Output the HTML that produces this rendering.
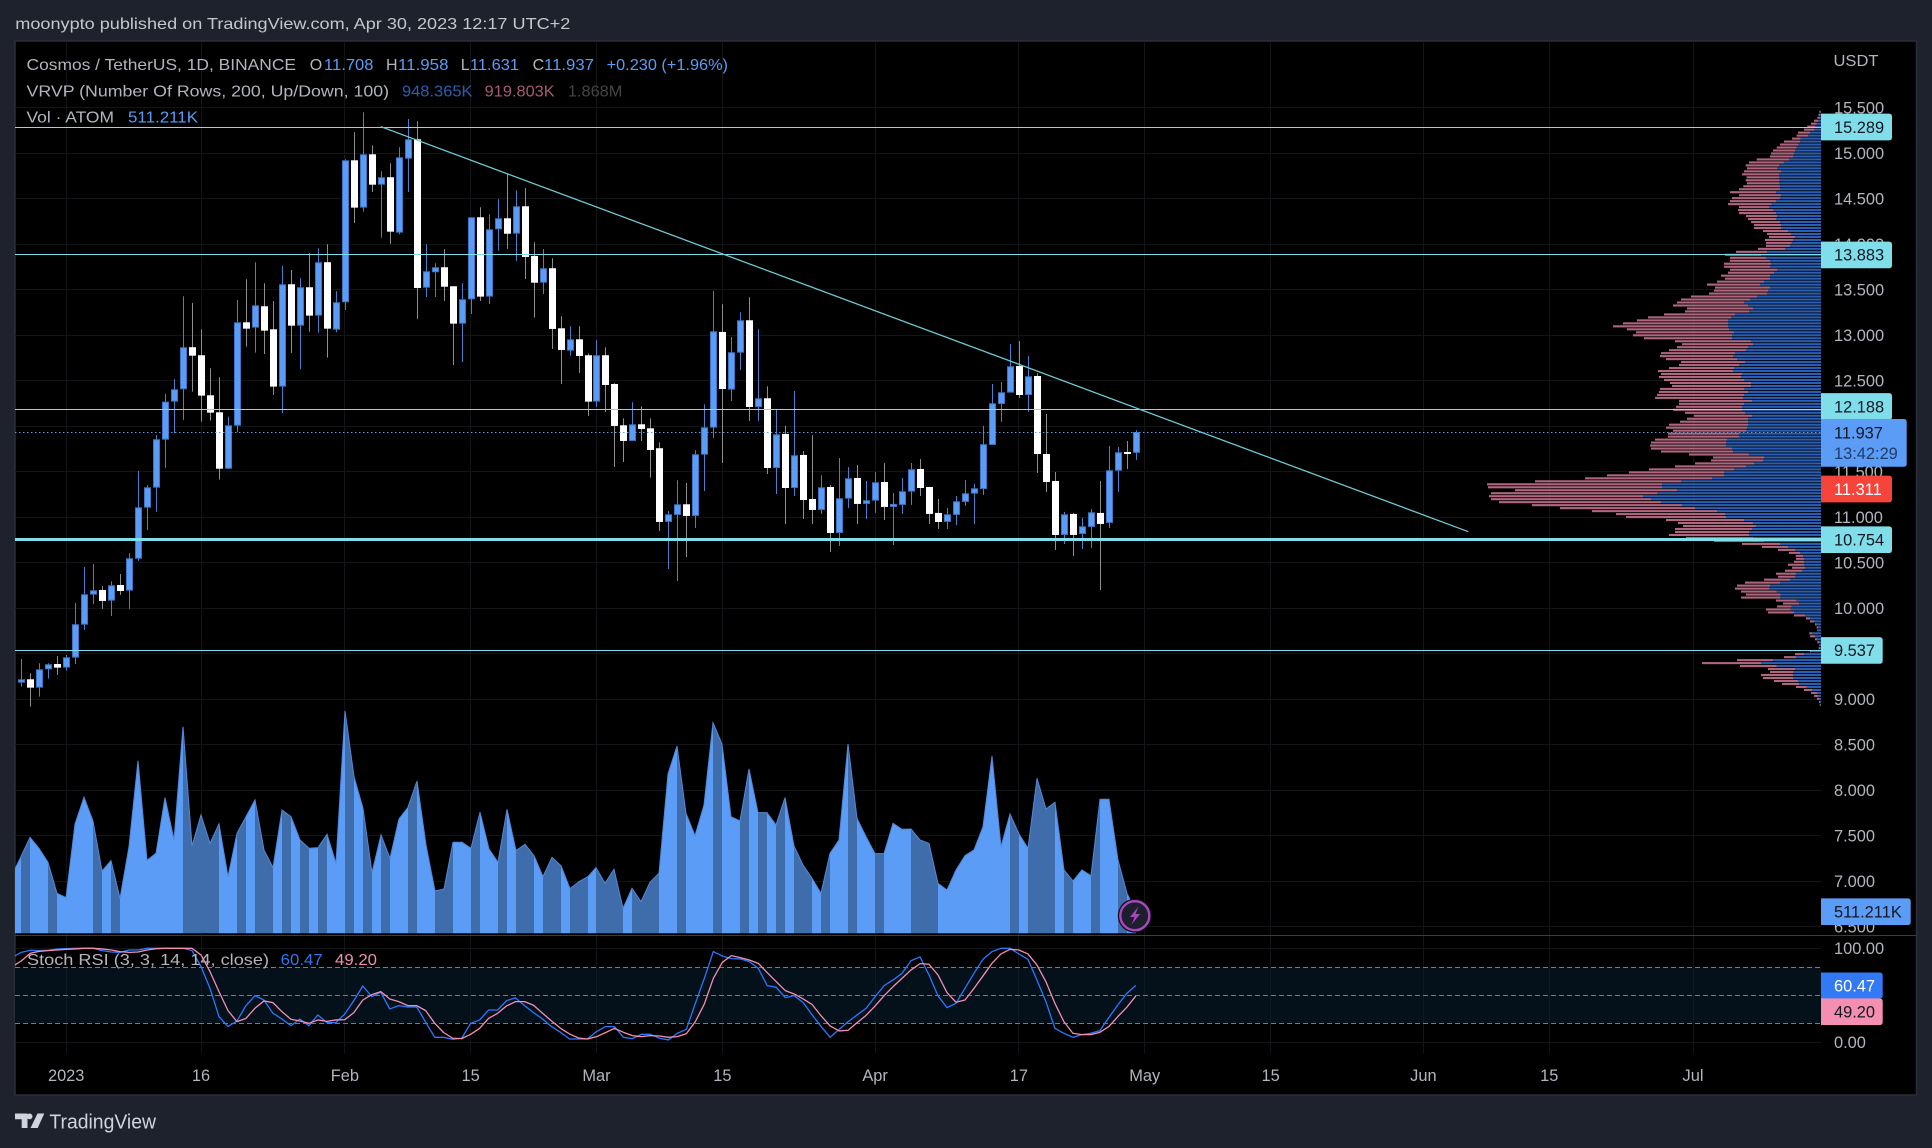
<!DOCTYPE html>
<html lang="en">
<head>
<meta charset="utf-8">
<title>Cosmos / TetherUS chart</title>
<style>
html,body{margin:0;padding:0;background:#1e222d;width:1932px;height:1148px;overflow:hidden}
svg{display:block;fill:#b2b5be}
text{font-family:"Liberation Sans",sans-serif;font-size:16px}
</style>
</head>
<body>
<svg id="chart" xmlns="http://www.w3.org/2000/svg" width="1932" height="1148" viewBox="0 0 1932 1148">
  <defs>
    <clipPath id="mainClip"><rect x="15" y="41" width="1806" height="892.5"/></clipPath>
    <clipPath id="stochClip"><rect x="15" y="936" width="1806" height="117"/></clipPath>
  </defs>
  <rect x="0" y="0" width="1932" height="1148" fill="#1e222d"/>
  <text x="15.3" y="29" textLength="555" lengthAdjust="spacingAndGlyphs" fill="#c5c7cd">moonypto published on TradingView.com, Apr 30, 2023 12:17 UTC+2</text>
  <rect x="15" y="41" width="1901.5" height="1054" fill="#000" stroke="#2a2e39" stroke-width="1.5"/>
  <g id="grid"></g>
  <rect id="stochBand" fill="#04101a"/>
  <g id="gridTop"></g>
  <g id="profile"></g>
  <g id="volume" clip-path="url(#mainClip)"></g>
  <g id="candles" clip-path="url(#mainClip)"></g>
  <g id="levels"></g>
  <g id="stoch" clip-path="url(#stochClip)"></g>
  <rect x="15" y="935" width="1901" height="1" fill="#383c47"/>
  <g id="priceAxis"></g>
  <g id="timeAxis"></g>
  <g id="boxes"></g>

  <g>
    <text x="26.5" y="70" textLength="269.5" lengthAdjust="spacingAndGlyphs">Cosmos / TetherUS, 1D, BINANCE</text>
    <text x="309.7" y="70">O</text>
    <text x="324" y="70" textLength="49.5" lengthAdjust="spacingAndGlyphs" fill="#5b9cf6">11.708</text>
    <text x="386" y="70">H</text>
    <text x="398" y="70" textLength="50.5" lengthAdjust="spacingAndGlyphs" fill="#5b9cf6">11.958</text>
    <text x="460.7" y="70">L</text>
    <text x="470" y="70" textLength="49" lengthAdjust="spacingAndGlyphs" fill="#5b9cf6">11.631</text>
    <text x="532.6" y="70">C</text>
    <text x="544" y="70" textLength="50" lengthAdjust="spacingAndGlyphs" fill="#5b9cf6">11.937</text>
    <text x="606.6" y="70" textLength="121.4" lengthAdjust="spacingAndGlyphs" fill="#5b9cf6">+0.230 (+1.96%)</text>
    <text x="26.5" y="96.5" textLength="362.5" lengthAdjust="spacingAndGlyphs">VRVP (Number Of Rows, 200, Up/Down, 100)</text>
    <text x="402" y="96.5" textLength="70.5" lengthAdjust="spacingAndGlyphs" fill="#2a5fb4">948.365K</text>
    <text x="484.7" y="96.5" textLength="70" lengthAdjust="spacingAndGlyphs" fill="#a85a78">919.803K</text>
    <text x="567.9" y="96.5" textLength="54.5" lengthAdjust="spacingAndGlyphs" fill="#454545">1.868M</text>
    <text x="26.5" y="122.5" textLength="87.5" lengthAdjust="spacingAndGlyphs">Vol · ATOM</text>
    <text x="128" y="122.5" textLength="70" lengthAdjust="spacingAndGlyphs" fill="#5b9cf6">511.211K</text>
  </g>
  <g>
    <text x="27" y="965" textLength="242" lengthAdjust="spacingAndGlyphs">Stoch RSI (3, 3, 14, 14, close)</text>
    <text x="280.7" y="965" textLength="42" lengthAdjust="spacingAndGlyphs" fill="#2f7af0">60.47</text>
    <text x="335" y="965" textLength="42" lengthAdjust="spacingAndGlyphs" fill="#f48fb1">49.20</text>
  </g>
  <text x="1833.5" y="66" textLength="45" lengthAdjust="spacingAndGlyphs">USDT</text>

  <g>
    <circle cx="1134.8" cy="915.7" r="17" fill="#101218"/>
    <circle cx="1134.8" cy="915.7" r="14.5" fill="#1e1f2e" stroke="#ab47bc" stroke-width="2.4"/>
    <path d="M1138.5 906.5l-8.5 10.5h4.6l-3.1 7.5 8.6-10.5h-4.6z" fill="#ab47bc"/>
  </g>
  <g>
    <path d="M15 1113.5h12.5v14.5h-5.8v-8.8H15zM37.5 1113.5h6.8l-6.6 14.5h-7.2zM29.6 1113.5a2.9 2.9 0 1 1 0 5.8a2.9 2.9 0 1 1 0-5.8z" fill="#d1d4dc"/>
    <text x="49.4" y="1128.5" style="font-size:20px" textLength="106.6" lengthAdjust="spacingAndGlyphs" fill="#d1d4dc">TradingView</text>
  </g>
</svg>
<script>
// ---- Candles: daily OHLC starting at firstCandleDay (days relative to 1 Jan 2023)
const firstCandleDay = -5;
const candleOpen = [9.183,9.220,9.128,9.330,9.388,9.348,9.458,9.820,10.150,10.201,
10.084,10.256,10.194,10.545,11.106,11.326,11.853,12.271,12.407,12.869,
12.781,12.341,12.154,11.534,12.007,13.143,13.084,13.319,13.066,12.436,
13.561,13.106,13.528,13.216,13.803,13.062,13.363,14.923,14.403,14.989,
14.655,14.737,14.128,14.941,15.154,13.523,13.693,13.748,13.539,13.128,
13.396,14.297,13.425,14.165,14.286,14.117,14.418,13.872,13.578,13.737,
13.077,12.831,12.956,12.781,12.271,12.781,12.465,12.011,11.839,12.022,
11.978,11.759,10.949,11.026,11.143,11.015,11.688,11.985,13.037,12.403,
12.809,13.165,12.212,12.308,11.542,11.916,11.322,11.685,11.201,11.081,
11.333,10.828,11.205,11.432,11.147,11.183,11.388,11.114,11.136,11.282,
11.531,11.333,11.048,10.949,11.026,11.169,11.260,11.311,11.795,12.245,
12.370,12.663,12.344,12.553,11.696,11.399,10.806,11.037,10.817,10.894,
11.048,10.938,11.512,11.718,11.708];
const candleHigh = [9.443,9.286,9.396,9.396,9.476,9.487,10.059,10.454,10.487,10.245,
10.297,10.377,10.605,11.509,11.355,11.905,12.355,12.517,13.429,13.355,
13.066,12.638,12.539,12.106,13.388,13.616,13.803,13.572,13.377,13.762,
13.718,13.627,13.901,13.956,14.000,13.484,14.934,15.231,15.451,15.088,
14.803,14.890,15.066,15.377,15.352,14.000,13.792,13.945,13.539,13.572,
14.297,14.407,14.330,14.495,14.773,14.594,14.619,14.022,13.949,13.847,
13.209,13.099,13.099,12.803,12.945,12.869,12.473,12.088,12.264,12.220,
12.088,11.825,11.070,11.407,11.377,11.737,12.242,13.487,13.341,12.982,
13.253,13.418,13.066,12.440,12.180,12.004,12.388,11.729,11.905,11.462,
11.355,11.652,11.553,11.575,11.399,11.498,11.597,11.267,11.432,11.597,
11.641,11.333,11.201,11.103,11.234,11.410,11.366,12.004,12.465,12.487,
12.905,12.938,12.773,12.583,12.136,11.498,11.059,11.048,10.993,11.092,
11.399,11.784,11.773,11.839,11.958];
const candleLow = [9.139,8.919,9.029,9.227,9.267,9.315,9.388,9.762,10.048,9.993,
9.916,10.147,9.993,10.523,10.861,11.062,11.545,11.923,12.070,12.381,
12.051,12.062,11.414,11.531,11.934,12.875,12.809,12.795,12.344,12.143,
12.806,12.627,13.040,13.029,12.754,13.033,13.278,14.234,14.359,14.575,
14.073,14.004,14.110,14.575,13.180,13.421,13.421,13.377,12.674,12.707,
13.234,13.377,13.344,13.930,13.949,13.817,13.619,13.194,13.454,12.850,
12.465,12.776,12.586,12.114,12.212,12.158,11.553,11.608,11.839,11.839,
11.436,10.850,10.432,10.300,10.564,10.883,11.289,11.872,11.597,12.278,
12.619,12.059,12.059,11.476,11.256,10.927,11.234,10.982,10.927,11.037,
10.619,10.685,11.103,10.927,10.982,11.048,10.971,10.696,11.037,11.136,
11.234,10.927,10.872,10.872,10.916,11.125,10.927,11.245,11.795,12.048,
12.370,12.311,12.158,11.487,11.278,10.641,10.707,10.575,10.652,10.663,
10.201,10.883,11.278,11.531,11.631];
const candleClose = [9.220,9.128,9.330,9.385,9.348,9.462,9.825,10.154,10.198,10.081,
10.253,10.190,10.550,11.110,11.330,11.858,12.271,12.407,12.869,12.776,
12.337,12.150,11.534,12.011,13.143,13.073,13.330,13.051,12.436,13.561,
13.106,13.528,13.216,13.803,13.073,13.363,14.923,14.403,14.989,14.655,
14.737,14.139,14.956,15.154,13.520,13.704,13.748,13.534,13.128,13.396,
14.297,13.425,14.165,14.286,14.116,14.418,13.861,13.578,13.737,13.070,
12.839,12.956,12.773,12.271,12.781,12.454,12.004,11.839,12.022,11.971,
11.740,10.949,11.033,11.143,11.015,11.693,11.989,13.044,12.410,12.814,
13.165,12.212,12.308,11.542,11.912,11.322,11.682,11.190,11.081,11.330,
10.828,11.209,11.429,11.147,11.187,11.385,11.114,11.147,11.286,11.528,
11.322,11.037,10.949,11.033,11.176,11.264,11.319,11.803,12.253,12.374,
12.660,12.344,12.550,11.696,11.388,10.806,11.033,10.806,10.901,11.055,
10.927,11.517,11.715,11.696,11.937];

// ---- Volume in thousands of ATOM; first value is the day before the first candle
const volumeK = [1380,1814,2271,2011,1680,946,844,2587,3218,2658,1475,1719,828,2051,4085,1727,1893,3210,2208,4890,
2066,2800,2129,2587,1341,2366,2760,3155,1972,1554,2918,2760,2208,2011,2027,2342,1656,5261,3707,2958,
1435,2327,1775,2705,2981,3604,2090,1002,1049,2153,2153,2011,2863,1995,1680,2934,1956,2106,1838,1341,
1798,1601,1057,1222,1341,1554,1183,1514,592,1065,749,1207,1420,3770,4432,2839,2311,3036,4985,4480,
2760,2658,3888,2855,2855,2563,3210,2066,1617,1301,946,1893,2208,4480,2721,2287,1885,1885,2603,2461,
2469,2208,2129,1183,1025,1499,1838,1972,2524,4196,2051,2824,2350,2011,3667,2942,3100,1499,1238,1499,
1364,3171,3171,1735,946,511];

// ---- Stoch RSI; first value is the day before the first candle
const stochK = [90.4,95.7,97.9,97.5,97.9,99.3,99.6,100,100,100,97.5,96.1,95.7,98.2,98.2,100,100,100,100,100,
97.5,80.5,57.4,27.3,16.7,22.7,39,49.6,45,30.9,24.8,17.7,24.8,17.7,29.1,20.9,20.9,30.1,44.3,59.9,
48.6,53.2,35.5,39,37.6,37.6,21.3,5.3,5.3,3.2,4.3,20.2,23.8,34.4,34.4,44.3,47.2,39,31.6,24.8,
16.7,10.6,3.5,3.5,3.5,11.3,16.7,16.7,5.3,3.9,8.5,8.5,4.3,2.5,9.6,13.8,41.5,68.1,96.5,91.8,
89,88.7,85.8,78.7,60.3,58.5,47.5,49.6,42.2,29.1,16.7,5.3,13.8,22,29.1,36.2,48.6,60.3,66.3,73.4,
86.9,90.8,71.6,49.3,36.9,41.5,57.4,73.4,88.3,96.5,100,100,94,88.3,66.3,43.3,14.9,9.6,5.3,8.2,
9.6,12.4,26.2,39.7,52.1,60.47];
const stochD = [80.5,86.5,94.7,96.8,97.5,98.2,98.9,99.3,100,100,99.3,98.2,96.5,95.7,96.1,98.2,99.6,100,100,100,
100,92.9,75.2,53.9,33.7,22,25.5,36.2,44,42.2,32.6,24.5,22.7,20.2,23.8,22.3,23.8,24.1,31.6,45,
50.7,53.9,46.1,43.3,39,39,33.7,20.2,10.3,4.3,3.9,8.5,14.9,25.5,30.9,38.7,43.3,43.3,39.4,30.9,
22.7,14.9,8.9,4.6,3.5,6,10.3,14.9,10.6,7.1,6,7.1,6.7,5.3,6,9.2,22,40.8,68.1,85.1,
92.2,90.1,87.6,84,74.1,64.5,55,51.4,46.1,40.1,28,17.4,12.1,12.8,20.9,28.7,38.7,49.6,59.2,68.1,
77,83.7,83,71.6,52.8,42.6,45,57.4,70.6,84,94,98.9,98.2,94,82.3,64.5,41.5,22,9.6,8.2,
8.2,10.6,16.7,27.3,37.2,49.2];

// ---- Visible-range volume profile, rows from the highest price down (thousands)
const profileTopPrice = 15.457;
const profileRowStep = 0.03275;
const profileUp = [.03,.07,.1,.27,.43,.6,.67,1.1,1.27,2.03,2.1,2.27,2.43,2.6,2.67,2.77,3.2,3.7,4.2,4.37,
4,4.17,4.17,4.13,4.2,4.1,4.1,4.5,4,4.1,4.5,4.93,5.17,4.77,4.5,4.37,4.5,4.1,4,4,
3.3,3,2.6,2.8,2.93,3.1,3.6,5.4,6,5.5,5.1,5,5.1,4.4,4.7,5.1,5.1,5.7,6.1,5.1,
5.3,5.4,6.4,7.1,7.7,7.3,6.8,7.2,8.6,9,9.3,9.3,9.3,9.2,8.7,8.9,8.9,7,6.8,7.3,
7.5,8.6,8.8,8.4,7.6,8.2,8.7,8.8,7.9,8,7.7,7,7,7.7,7.3,7.7,7.8,6.9,7.7,7.9,
7.9,7.6,6.9,7.3,7.3,7.3,7.4,7.5,8.2,8.2,9.4,9.5,9.5,8.9,8.8,7.2,5.7,5.8,6.7,7.5,
8.7,9.7,9.7,10.9,14,15.9,15.9,14.4,16.4,17.8,17,16,13.9,12.6,10.4,9.6,9.5,7.7,6.8,6.5,
6.9,7.2,7.2,6.8,5.7,4.1,3.3,2.6,2.1,1.8,1.67,1.67,1.7,1.6,1.9,2.5,2.6,3.1,4.1,5.1,
5.2,4.43,4.03,4.1,2.43,2.2,2.93,3.03,2.7,1.6,1.1,.7,.43,.27,.27,.87,.6,.37,.17,.1,
.07,1,1.7,2.5,4.77,6,4.43,2.6,2.77,2.8,2.8,2.3,2.2,1.43,.9,.4,.27,.2,.1,.03];
const profileDown = [.13,.17,.27,.43,.57,.77,1.03,1.2,1.17,.87,1.6,1.83,2,2.2,2.33,2.33,3.23,3.5,3.33,3.03,
3.7,3.73,3.27,3.4,3.2,3.67,4.1,4.6,4.2,4.8,4.6,4.37,3.03,3.53,3.7,3.13,2.8,2.9,2.7,2.7,
2.5,2.4,2.6,2.8,2.57,2.4,2.7,3.1,3.6,3.6,4,4.7,4.6,4.7,4.6,4.9,4.5,4.7,5.3,5.5,
5.4,5.8,6.6,6.9,6.7,7.5,6.6,6.4,7.1,8.3,9.1,10.5,11.5,10.2,9.8,9.9,8.8,7.6,7.1,7.1,
7.7,7.4,7.3,7.1,6.4,6,6.5,7.5,8.1,8.2,8,8.1,7.9,8.4,8.9,8.7,8.8,7.3,6.5,6.6,
6.9,6,5.8,6.1,6.8,7.9,8.1,7.3,7.1,7.1,7.2,7.5,7.6,8.1,7.2,6,5.1,5.2,5.9,7.1,
8.5,9.5,11.7,12.7,14.6,17.5,17.4,16.2,16.6,15.4,16,16.2,15,13.5,12.5,10.9,10,7.8,7.5,7.3,
7.7,7.4,8,6.7,5,3.8,2.6,1.7,1.1,.73,.83,1.03,1.6,1.3,1.7,2,1.7,2.6,3.5,3.3,
3.4,3.57,3.47,3.9,2.07,1.6,1.47,2.47,2.6,1.1,.4,.4,.17,.17,.1,.3,.5,.23,.2,.07,
.17,.1,.9,1.2,3.63,5.9,3.67,2.7,2.33,3.2,3,2.4,1.7,1.07,.8,.6,.43,.2,.1,.1];

// ---- Drawings and axis ticks
const levelPrices = [15.289,13.883,12.188,10.754,9.537];
const thickLevel = 10.754;
const lastPrice = 11.937;
const pocPrice = 11.311;
const trendDays = [35,156];
const trendPrices = [15.293,10.842];
const priceTicks = [15.5,15,14.5,14,13.5,13,12.5,12,11.5,11,10.5,10,9.5,9,8.5,8,7.5,7,6.5];
const stochTicks = [100,0];
const stochBandLines = [80,50,20];
const timeTickDays = [0,15,31,45,59,73,90,106,120,134,151,165,181];
const timeTickLabels = ['2023','16','Feb','15','Mar','15','Apr','17','May','15','Jun','15','Jul'];

// ---- Axis functions
function xDay(d){return 66.2+8.988*d;}
function yPrice(p){return 153.3+(15-p)*91;}
function yVolume(k){return 933.3-k/23.66;}
function yStoch(v){return 1042.3-0.94*v;}
function wProfile(k){return k*10;}

const SVGNS='http://www.w3.org/2000/svg';
function make(tag,parent,attrs){
  const el=document.createElementNS(SVGNS,tag);
  for(const k in attrs){el.setAttribute(k,attrs[k]);}
  document.getElementById(parent).appendChild(el);
  return el;
}
const L=15,R=1821;
const GRID='#131417';

// grid
priceTicks.forEach(function(p){
  const y=Math.floor(yPrice(p))+0.5;
  const el=make('line','grid',{x1:L,x2:R,y1:y,y2:y,stroke:GRID,'stroke-width':1});
  
  
});
timeTickDays.forEach(function(d){
  const x=Math.floor(xDay(d))+0.5;
  const el=make('line','grid',{x1:x,x2:x,y1:42,y2:1053,stroke:GRID,'stroke-width':1});
  
  
});

// stoch band + guides
const band=document.getElementById('stochBand');
band.setAttribute('x',L);
band.setAttribute('width',R-L);
band.setAttribute('y',yStoch(stochBandLines[0]));
band.setAttribute('height',yStoch(stochBandLines[2])-yStoch(stochBandLines[0]));
timeTickDays.forEach(function(d){
  const x=Math.floor(xDay(d))+0.5;
  const el=make('line','gridTop',{x1:x,x2:x,y1:yStoch(stochBandLines[0]),y2:yStoch(stochBandLines[2]),stroke:'#101a23','stroke-width':1});
  
  
});
stochTicks.forEach(function(v){
  const y=Math.floor(yStoch(v))+0.5;
  const el=make('line','gridTop',{x1:L,x2:R,y1:y,y2:y,stroke:GRID,'stroke-width':1});
  
  
});
stochBandLines.forEach(function(v){
  const y=Math.floor(yStoch(v))+0.5;
  const el=make('line','gridTop',{x1:L,x2:R,y1:y,y2:y,stroke:'#787b86','stroke-width':1,'stroke-dasharray':'5 3'});
  
  
});

// volume profile
profileUp.forEach(function(up,i){
  const price=profileTopPrice-i*profileRowStep;
  const y=yPrice(price)-1;
  const wu=wProfile(up), wd=wProfile(profileDown[i]);
  const ru=make('rect','profile',{x:R-wu,y:y,width:wu,height:2.1,fill:'#2a5fb4'});
  
  
  const rd=make('rect','profile',{x:R-wu-wd,y:y,width:wd,height:2.1,fill:'#b0667f'});
  
  
});

// volume area (each segment ends at its candle and takes that candle's direction)
const volFirstDay=firstCandleDay-1;
for(let i=1;i<volumeK.length;i++){
  const d=volFirstDay+i, c=i-1;
  const up=candleClose[c]>=candleOpen[c];
  const x0=Math.round(xDay(d-1)), x1=Math.round(xDay(d));
  const base=yVolume(0);
  const pts=[x0,base,x0,yVolume(volumeK[i-1]),x1,yVolume(volumeK[i]),x1,base].join(' ');
  const el=make('polygon','volume',{points:pts,fill:up?'#5b9cf6':'#3f6dab'});
  
  
}
const volPts=volumeK.map(function(k,i){return Math.round(xDay(volFirstDay+i))+','+yVolume(k);}).join(' ');
const volLine=make('polyline','volume',{points:volPts,fill:'none',stroke:'#5288d8','stroke-width':1});



// candles
candleOpen.forEach(function(o,i){
  const d=firstCandleDay+i, c=candleClose[i];
  const up=c>=o;
  const cx=Math.round(xDay(d));
  const wick=make('line','candles',{x1:cx+0.5,x2:cx+0.5,y1:yPrice(candleHigh[i]),y2:yPrice(candleLow[i]),stroke:up?'#4a7fcb':'#8e8e8e','stroke-width':1});
  
  
  const top=yPrice(Math.max(o,c)), bottom=yPrice(Math.min(o,c));
  const attrs=up?{x:cx-2.5,y:top+0.5,width:6,height:Math.max(bottom-top-1,1),fill:'#5b9cf6',stroke:'#3f74c4','stroke-width':1}
                :{x:cx-3,y:top,width:7,height:Math.max(bottom-top,1),fill:'#ffffff'};
  const body=make('rect','candles',attrs);
  
  
});

// stoch lines
function stochPath(values){
  return values.map(function(v,i){return xDay(volFirstDay+i)+','+yStoch(v);}).join(' ');
}
const kLine=make('polyline','stoch',{points:stochPath(stochK),fill:'none',stroke:'#2979ff','stroke-width':1.3,'stroke-linejoin':'round'});


const dLine=make('polyline','stoch',{points:stochPath(stochD),fill:'none',stroke:'#f48fb1','stroke-width':1.3,'stroke-linejoin':'round'});



// horizontal levels, trendline, last price
levelPrices.forEach(function(p){
  const thick=p===thickLevel;
  const y=Math.floor(yPrice(p))+0.5;
  const el=make('line','levels',{x1:L,x2:R,y1:y,y2:y,stroke:'#80deea','stroke-width':thick?3:1});
  
  
});
const trend=make('line','levels',{x1:xDay(trendDays[0]),y1:yPrice(trendPrices[0]),x2:xDay(trendDays[1]),y2:yPrice(trendPrices[1]),stroke:'#6fc9d2','stroke-width':1.3});


const lastY=Math.floor(yPrice(lastPrice))+0.5;
const lastLine=make('line','levels',{x1:L,x2:R,y1:lastY,y2:lastY,stroke:'#5b9cf6','stroke-width':1,'stroke-dasharray':'1.5 2.5'});



// axes
const TX=1834;
function fs(el){el.setAttribute('style','font-size:16.4px');}
priceTicks.forEach(function(p){
  const t=make('text','priceAxis',{x:TX,y:yPrice(p)+5.8});
  t.textContent=p.toFixed(3);
  fs(t);
  
  
});
stochTicks.forEach(function(v){
  const t=make('text','priceAxis',{x:TX,y:yStoch(v)+5.8});
  t.textContent=v.toFixed(2);
  fs(t);
  
  
});
timeTickDays.forEach(function(d,i){
  const t=make('text','timeAxis',{x:xDay(d),y:1081,'text-anchor':'middle'});
  t.textContent=timeTickLabels[i];
  fs(t);
  
  
});

// value boxes
function box(centerY,h,right,fill,txt,color){
  const top=centerY-h/2;
  const r=make('path','boxes',{d:'M1821 '+top+'H'+(right-3)+'q3 0 3 3V'+(top+h-3)+'q0 3 -3 3H1821z',fill:fill});
  
  
  const t=make('text','boxes',{x:TX,y:centerY+5.8,fill:color});
  t.textContent=txt;
  fs(t);
  
  
}
levelPrices.forEach(function(p){
  const s=p.toFixed(3);
  const shift=(p===12.188)?-2.7:0;
  box(yPrice(p)+shift,26.7,s.length>5?1892:1882.7,'#80deea',s,'#131722');
});
box(yPrice(pocPrice),26.7,1892,'#f7443a',pocPrice.toFixed(3),'#ffffff');
box(yVolume(volumeK[volumeK.length-1]),26.7,1910.7,'#5b9cf6','511.211K','#131722');
box(yStoch(stochK[stochK.length-1]),26,1882.7,'#3179f5',stochK[stochK.length-1].toFixed(2),'#ffffff');
box(1011.7,26.7,1882.7,'#f48fb1',stochD[stochD.length-1].toFixed(2),'#131722');

// last price box with countdown
const lastBox=make('path','boxes',{d:'M1821 419H1903.7q3 0 3 3V463.7q0 3 -3 3H1821z',fill:'#5b9cf6'});


const lastText=make('text','boxes',{x:TX,y:438.5,fill:'#131722'});
lastText.textContent=lastPrice.toFixed(3);
fs(lastText);


const clockText=make('text','boxes',{x:TX,y:459,fill:'#1f3d66'});
clockText.textContent='13:42:29';
fs(clockText);


</script>
</body>
</html>
